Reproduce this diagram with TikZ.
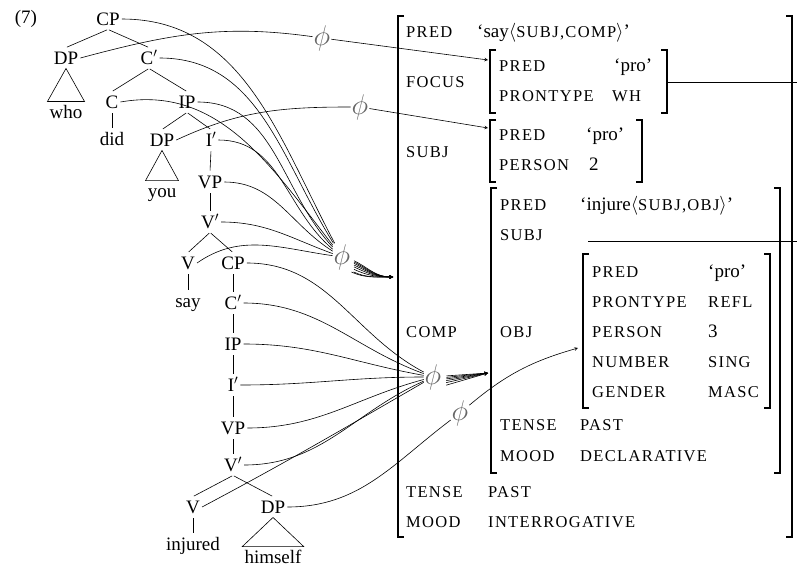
\RequirePackage{fix-cm}
\documentclass[tikz,border=0pt]{standalone}
\usepackage{fontspec}
\setmainfont{Liberation Serif}
\newfontfamily\scfont[LetterSpace=8]{Liberation Serif}
\usepackage{tikz}
\newcommand{\smc}[1]{{\scfont\fontsize{16.5}{19}\selectfont #1}}

\begin{document}
\begin{tikzpicture}[x=1pt,y=-1pt,
  every node/.append style={font=\fontsize{19}{22}\selectfont},
  tn/.style={inner xsep=2pt, inner ysep=4pt, text height=12.5pt, text depth=0pt},
  phinode/.style={inner sep=0.5pt, text=black!60, scale=1.5},
  att/.style={anchor=base west, inner sep=0pt},
  br/.style={line width=0.6pt, shorten <=1pt, shorten >=1pt},
  tri/.style={line width=0.6pt},
  conn/.style={line width=0.6pt},
  brk/.style={line width=1.1pt}]
\useasboundingbox (0,0) rectangle (797,567);

\node (num) at (26,19) {(7)};

% tree
\node[tn] (cp1) at (108,19) {CP};
\node[tn] (dp1) at (66,58) {DP};
\node[tn] (cbar1) at (149,58) {C$'$};
\node[tn] (who) at (66,112) {who};
\node[tn] (c1) at (112,102) {C};
\node[tn] (ip1) at (187,102) {IP};
\node[tn] (did) at (112,139) {did};
\node[tn] (dp2) at (162,140) {DP};
\node[tn] (ibar1) at (211,140) {I$'$};
\node[tn] (you) at (162,191) {you};
\node[tn] (vp1) at (210,182) {VP};
\node[tn] (vbar1) at (210,222) {V$'$};
\node[tn] (v1) at (188,263) {V};
\node[tn] (cp2) at (233,263) {CP};
\node[tn] (say) at (188,301) {say};
\node[tn] (cbar2) at (233,303) {C$'$};
\node[tn] (ip2) at (233,344) {IP};
\node[tn] (ibar2) at (233,385) {I$'$};
\node[tn] (vp2) at (233,428) {VP};
\node[tn] (vbar2) at (233,465) {V$'$};
\node[tn] (v2) at (193,507) {V};
\node[tn] (dp3) at (273,507) {DP};
\node[tn] (injured) at (193,544) {injured};
\node[tn] (himself) at (273,557) {himself};

\draw[br] (cp1.south) -- (dp1.north);
\draw[br] (cp1.south) -- (cbar1.north);
\draw[tri] (dp1.south) -- (who.north west) -- (who.north east) -- cycle;
\draw[br] (cbar1.south) -- (c1.north);
\draw[br] (cbar1.south) -- (ip1.north);
\draw[br] (c1.south) -- (did.north);
\draw[br] (ip1.south) -- (dp2.north);
\draw[br] (ip1.south) -- (ibar1.north);
\draw[tri] (dp2.south) -- (you.north west) -- (you.north east) -- cycle;
\draw[br] (ibar1.south) -- (vp1.north);
\draw[br] (vp1.south) -- (vbar1.north);
\draw[br] (vbar1.south) -- (v1.north);
\draw[br] (vbar1.south) -- (cp2.north);
\draw[br] (v1.south) -- (say.north);
\draw[br] (cp2.south) -- (cbar2.north);
\draw[br] (cbar2.south) -- (ip2.north);
\draw[br] (ip2.south) -- (ibar2.north);
\draw[br] (ibar2.south) -- (vp2.north);
\draw[br] (vp2.south) -- (vbar2.north);
\draw[br] (vbar2.south) -- (v2.north);
\draw[br] (vbar2.south) -- (dp3.north);
\draw[br] (v2.south) -- (injured.north);
\draw[tri] (dp3.south) -- (himself.north west) -- (himself.north east) -- cycle;

% f-structure
\draw[brk] (404,16) -- (398,16) -- (398,537) -- (404,537);
\draw[brk] (786,16) -- (792,16) -- (792,537) -- (786,537);

\node[att] (predA) at (406,38) {\smc{PRED}};
\node[att] (predAv) at (477,38) {`say$\langle$\smc{SUBJ,COMP}$\rangle$'};
\node[att] (focusA) at (406,88) {\smc{FOCUS}};
\node[att] (subjA) at (406,157) {\smc{SUBJ}};
\node[att] (compA) at (406,337) {\smc{COMP}};
\node[att] (tenseA) at (406,497) {\smc{TENSE}};
\node[att] (tenseAv) at (488,497) {\smc{PAST}};
\node[att] (moodA) at (406,527) {\smc{MOOD}};
\node[att] (moodAv) at (488,527) {\smc{INTERROGATIVE}};

% focus
\draw[brk] (496,50) -- (490,50) -- (490,113) -- (496,113);
\draw[brk] (661,50) -- (667,50) -- (667,113) -- (661,113);
\node[att] (predF) at (499,72) {\smc{PRED}};
\node[att] (predFv) at (614,72) {`pro'};
\node[att] (ptypeF) at (499,102) {\smc{PRONTYPE}};
\node[att] (ptypeFv) at (612,102) {\smc{WH}};

% subj
\draw[brk] (496,120) -- (490,120) -- (490,182) -- (496,182);
\draw[brk] (636,120) -- (642,120) -- (642,182) -- (636,182);
\node[att] (predS) at (499,140) {\smc{PRED}};
\node[att] (predSv) at (586,140) {`pro'};
\node[att] (persS) at (499,170) {\smc{PERSON}};
\node[att] (persSv) at (589,170) {2};

% comp
\draw[brk] (497,188) -- (491,188) -- (491,473) -- (497,473);
\draw[brk] (774,188) -- (780,188) -- (780,473) -- (774,473);
\node[att] (predC) at (500,210) {\smc{PRED}};
\node[att] (predCv) at (580,210) {`injure$\langle$\smc{SUBJ,OBJ}$\rangle$'};
\node[att] (subjC) at (500,240) {\smc{SUBJ}};
\node[att] (objC) at (500,337) {\smc{OBJ}};
\node[att] (tenseC) at (500,430) {\smc{TENSE}};
\node[att] (tenseCv) at (580,430) {\smc{PAST}};
\node[att] (moodC) at (500,461) {\smc{MOOD}};
\node[att] (moodCv) at (580,461) {\smc{DECLARATIVE}};

% obj
\draw[brk] (589,254) -- (583,254) -- (583,408) -- (589,408);
\draw[brk] (764,254) -- (770,254) -- (770,408) -- (764,408);
\node[att] (predO) at (592,277) {\smc{PRED}};
\node[att] (predOv) at (708,277) {`pro'};
\node[att] (ptypeO) at (592,307) {\smc{PRONTYPE}};
\node[att] (ptypeOv) at (708,307) {\smc{REFL}};
\node[att] (persO) at (592,337) {\smc{PERSON}};
\node[att] (persOv) at (708,337) {3};
\node[att] (numO) at (592,367) {\smc{NUMBER}};
\node[att] (numOv) at (708,367) {\smc{SING}};
\node[att] (gendO) at (592,397) {\smc{GENDER}};
\node[att] (gendOv) at (708,397) {\smc{MASC}};

% structure sharing lines
\coordinate (focusR) at (668,82);
\coordinate (edgeA) at (797,82);
\coordinate (subjR) at (588,241);
\coordinate (edgeB) at (797,241);
\draw[conn] (focusR) -- (edgeA);
\draw[conn] (subjR) -- (edgeB);

% phi
\node[phinode] (phiA) at (322,38) {$\phi$};
\node[phinode] (phiB) at (360,107) {$\phi$};
\node[phinode] (phiC) at (342,257) {$\phi$};
\node[phinode] (phiD) at (433,377) {$\phi$};
\node[phinode] (phiE) at (460,413) {$\phi$};

\coordinate (focusin) at (488,60);
\coordinate (subjin) at (488,128);
\coordinate (compin) at (393,277);
\coordinate (compavm) at (488,373);
\coordinate (objin) at (578,348);

\draw[conn] (dp1.east) to[out=15,in=172] (phiA);
\draw[conn,-stealth] (phiA) -- (focusin);
\draw[conn] (dp2.east) to[out=25,in=180] (phiB);
\draw[conn,-stealth] (phiB) -- (subjin);

\draw[conn] (cp1.east) to[out=0,in=118] (phiC);
\draw[conn] (cbar1.east) to[out=0,in=122] (phiC);
\draw[conn] (c1.east) to[out=10,in=128] (phiC);
\draw[conn] (ip1.east) to[out=0,in=133] (phiC);
\draw[conn] (ibar1.east) to[out=0,in=140] (phiC);
\draw[conn] (vp1.east) to[out=0,in=148] (phiC);
\draw[conn] (vbar1.east) to[out=0,in=160] (phiC);
\draw[conn] (v1.east) to[out=35,in=172] (phiC);
\foreach \a in {-15,-22,...,-64}
  \draw[conn,-stealth,shorten <=3pt] (phiC.\a) to[out=-25,in=180] (compin);

\draw[conn] (cp2.east) to[out=0,in=152] (phiD);
\draw[conn] (cbar2.east) to[out=0,in=160] (phiD);
\draw[conn] (ip2.east) to[out=0,in=170] (phiD);
\draw[conn] (ibar2.east) to[out=0,in=180] (phiD);
\draw[conn] (vp2.east) to[out=0,in=195] (phiD);
\draw[conn] (vbar2.east) to[out=0,in=204] (phiD);
\draw[conn] (v2.east) to[out=28,in=210] (phiD);
\foreach \a in {5,-5,...,-45}
  \draw[conn,-stealth,shorten <=4pt] (phiD.\a) -- (compavm);

\draw[conn] (dp3.east) to[out=0,in=217] (phiE);
\draw[conn,-stealth] (phiE) to[out=40,in=196] (objin);
\end{tikzpicture}
\end{document}
